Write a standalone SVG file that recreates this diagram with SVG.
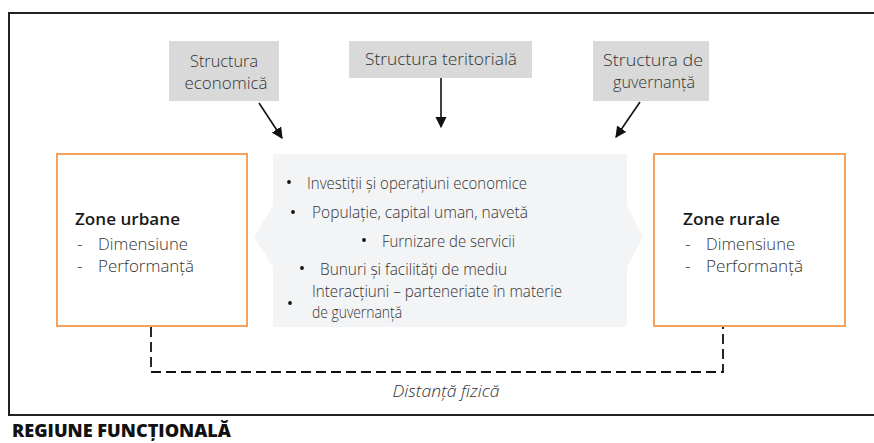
<svg xmlns="http://www.w3.org/2000/svg" width="874" height="443" viewBox="0 0 874 443">
  <style>
    text { font-family: "Open Sans", "Noto Sans", sans-serif; fill: #333333; font-weight: 300; }
    .frame { fill: none; stroke: #222222; stroke-width: 2; }
    .driver rect { fill: #d9d9d9; }
    .driver text { font-size: 17px; text-anchor: middle; }
    .zone rect { fill: #ffffff; stroke: #f5a25d; stroke-width: 2; }
    .zone .title { font-size: 17px; font-weight: 600; fill: #1a1a1a; }
    .zone .item { font-size: 17px; }
    .flows path { fill: #f3f4f5; }
    .flows text { font-size: 16px; }
    .arrow { stroke: #111111; stroke-width: 1.6; fill: none; marker-end: url(#head); }
    .dist { stroke: #111111; stroke-width: 1.8; fill: none; stroke-dasharray: 10 5; }
    .caption { font-size: 17px; font-style: italic; text-anchor: middle; }
    .region { font-size: 18px; font-weight: 800; fill: #111111; }
  </style>
  <defs>
    <marker id="head" viewBox="0 0 10 10" refX="9" refY="5" markerWidth="7" markerHeight="7" markerUnits="strokeWidth" orient="auto">
      <path d="M0,0 L10,5 L0,10 z" fill="#111111"/>
    </marker>
  </defs>

  <!-- outer frame of the functional region (open on the right) -->
  <path class="frame" d="M880,13 H9 V415 H880"/>

  <!-- drivers -->
  <g id="structura-economica" class="driver">
    <rect x="169" y="41" width="110" height="60"/>
    <text x="224" y="67" textLength="68" lengthAdjust="spacingAndGlyphs">Structura</text>
    <text x="226" y="89" textLength="83" lengthAdjust="spacingAndGlyphs">economică</text>
  </g>
  <g id="structura-teritoriala" class="driver">
    <rect x="349" y="41" width="183" height="37"/>
    <text x="441" y="65" textLength="152" lengthAdjust="spacingAndGlyphs">Structura teritorială</text>
  </g>
  <g id="structura-guvernanta" class="driver">
    <rect x="593" y="41" width="116" height="60"/>
    <text x="653" y="66" textLength="100" lengthAdjust="spacingAndGlyphs">Structura de</text>
    <text x="654" y="88" textLength="82" lengthAdjust="spacingAndGlyphs">guvernanță</text>
  </g>

  <!-- central exchange band -->
  <g id="fluxuri" class="flows">
    <path d="M273,154 H627 V206 L643,237 L627,267 V327 H273 V267 L254,237 L273,206 Z"/>
    <circle cx="289" cy="182" r="1.9" fill="#111"/>
    <text x="307" y="189" textLength="220" lengthAdjust="spacingAndGlyphs">Investiții și operațiuni economice</text>
    <circle cx="293" cy="212" r="1.9" fill="#111"/>
    <text x="312" y="218" textLength="216" lengthAdjust="spacingAndGlyphs">Populație, capital uman, navetă</text>
    <circle cx="364" cy="240" r="1.9" fill="#111"/>
    <text x="382" y="247" textLength="133" lengthAdjust="spacingAndGlyphs">Furnizare de servicii</text>
    <circle cx="302" cy="268" r="1.9" fill="#111"/>
    <text x="320" y="275" textLength="187" lengthAdjust="spacingAndGlyphs">Bunuri și facilități de mediu</text>
    <circle cx="290" cy="303" r="1.9" fill="#111"/>
    <text x="312" y="297" textLength="250" lengthAdjust="spacingAndGlyphs">Interacțiuni – parteneriate în materie</text>
    <text x="312" y="318" textLength="90" lengthAdjust="spacingAndGlyphs">de guvernanță</text>
  </g>

  <!-- zones -->
  <g id="zone-urbane" class="zone">
    <rect x="57" y="154" width="190" height="172"/>
    <text class="title" x="75" y="225" textLength="105" lengthAdjust="spacingAndGlyphs">Zone urbane</text>
    <text class="item" x="77" y="250">-</text>
    <text class="item" x="98" y="250" textLength="90" lengthAdjust="spacingAndGlyphs">Dimensiune</text>
    <text class="item" x="77" y="272">-</text>
    <text class="item" x="98" y="272" textLength="96" lengthAdjust="spacingAndGlyphs">Performanță</text>
  </g>
  <g id="zone-rurale" class="zone">
    <rect x="654" y="154" width="191" height="172"/>
    <text class="title" x="683" y="225" textLength="97" lengthAdjust="spacingAndGlyphs">Zone rurale</text>
    <text class="item" x="685" y="250">-</text>
    <text class="item" x="706" y="250" textLength="89" lengthAdjust="spacingAndGlyphs">Dimensiune</text>
    <text class="item" x="685" y="272">-</text>
    <text class="item" x="706" y="272" textLength="97" lengthAdjust="spacingAndGlyphs">Performanță</text>
  </g>

  <!-- connectors -->
  <g id="conectori">
    <line class="arrow" x1="259" y1="103" x2="282" y2="138"/>
    <line class="arrow" x1="441" y1="78" x2="441" y2="127"/>
    <line class="arrow" x1="640" y1="102" x2="616" y2="137"/>
    <path class="dist" d="M151,327 V372 H723 V327"/>
  </g>

  <text class="caption" x="446" y="397" textLength="107" lengthAdjust="spacingAndGlyphs">Distanță fizică</text>

  <text class="region" x="12" y="437" textLength="219" lengthAdjust="spacingAndGlyphs">REGIUNE FUNCȚIONALĂ</text>
</svg>
